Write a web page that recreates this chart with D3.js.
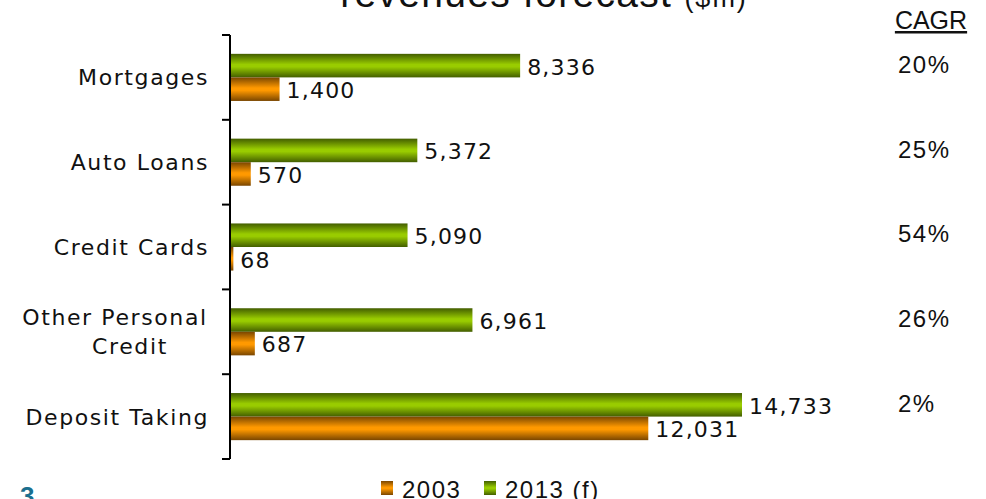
<!DOCTYPE html>
<html><head><meta charset="utf-8">
<script src="https://cdn.jsdelivr.net/npm/d3@7"></script>
<style>body{margin:0;background:#fff;}svg{display:block;}</style>
</head><body>
<svg id="chart" width="986" height="499"></svg>
<script>
const categories = ["Mortgages", "Auto Loans", "Credit Cards", "Other Personal Credit", "Deposit Taking"];
const categoryLines = [["Mortgages"], ["Auto Loans"], ["Credit Cards"], ["Other Personal", "Credit"], ["Deposit Taking"]];
const series = ["2013 (f)", "2003"];
const values2013 = [8336, 5372, 5090, 6961, 14733];
const values2003 = [1400, 570, 68, 687, 12031];
const cagr = ["20%", "25%", "54%", "26%", "2%"];
const legendOrder = ["2003", "2013 (f)"];

const svg = d3.select("#chart");
const defs = svg.append("defs");
function grad(id, dark, mid) {
  const g = defs.append("linearGradient").attr("id", id).attr("x1", 0).attr("x2", 0).attr("y1", 0).attr("y2", 1);
  g.append("stop").attr("offset", "0%").attr("stop-color", dark);
  g.append("stop").attr("offset", "45%").attr("stop-color", mid);
  g.append("stop").attr("offset", "55%").attr("stop-color", mid);
  g.append("stop").attr("offset", "100%").attr("stop-color", dark);
}
grad("gGreen", "#435e00", "#99cc00");
grad("gOrange", "#7a4600", "#ff9900");
const fills = {"2013 (f)": "url(#gGreen)", "2003": "url(#gOrange)"};

const x = d3.scaleLinear().domain([0, 14733]).range([231, 742]);
const y = d3.scaleBand().domain(categories).range([35, 459]).paddingInner(0).paddingOuter(0);
const sub = d3.scaleBand().domain(series).range([0, y.bandwidth()]).paddingInner(0).paddingOuter(0.8);

const data = categories.map((c, i) => ({c, i, vals: [
  {s: "2013 (f)", v: values2013[i]}, {s: "2003", v: values2003[i]}]}));

// title
const title = svg.append("text").attr("x", 544).attr("y", 7).attr("text-anchor", "middle")
  .attr("font-family", "Liberation Sans, Arial, sans-serif").attr("fill", "#111");
title.append("tspan").attr("font-size", 39).attr("letter-spacing", 1.3).text("revenues forecast ");
title.append("tspan").attr("font-size", 27).attr("letter-spacing", 2).text("($m)");

// CAGR header
svg.append("text").attr("x", 931).attr("y", 29).attr("text-anchor", "middle")
  .attr("font-family", "Liberation Sans, Arial, sans-serif").attr("font-size", 25)
  .attr("text-decoration", "underline").attr("fill", "#111").text("CAGR");

const groups = svg.selectAll("g.cat").data(data).join("g").attr("class", "cat")
  .attr("transform", d => `translate(0,${y(d.c)})`);

groups.selectAll("rect").data(d => d.vals).join("rect")
  .attr("x", x(0)).attr("y", d => sub(d.s)).attr("width", d => x(d.v) - x(0))
  .attr("height", sub.bandwidth()).attr("fill", d => fills[d.s]);

groups.selectAll("text.val").data(d => d.vals).join("text").attr("class", "val")
  .attr("x", d => x(d.v) + 7).attr("y", d => sub(d.s) + sub.bandwidth() / 2 + 1)
  .attr("dy", "0.36em").attr("font-family", "DejaVu Sans, Verdana, sans-serif")
  .attr("font-size", 22).attr("letter-spacing", 1.2).attr("fill", "#111")
  .text(d => d3.format(",")(d.v));

// category labels
groups.each(function(d, i) {
  const g = d3.select(this);
  const lines = categoryLines[i];
  const cy = y.bandwidth() / 2;
  const lh = 29;
  lines.forEach((t, k) => {
    g.append("text").attr("x", lines.length > 1 ? (k === 0 ? 115 : 130) : 209)
      .attr("y", cy + (k - (lines.length - 1) / 2) * lh)
      .attr("dy", "0.36em").attr("text-anchor", lines.length > 1 ? "middle" : "end")
      .attr("font-family", "DejaVu Sans, Verdana, sans-serif").attr("font-size", 22)
      .attr("letter-spacing", 1.6).attr("fill", "#111").text(t);
  });
  g.append("text").attr("x", 898).attr("y", cy - 4.5)
    .attr("font-family", "Liberation Sans, Arial, sans-serif").attr("font-size", 24)
    .attr("letter-spacing", 1.5).attr("fill", "#111").text(cagr[i]);
});

// axis
const axis = d3.axisLeft(y).tickSize(0).tickFormat("");
const ax = svg.append("g").attr("transform", `translate(230,0)`).call(axis);
ax.select(".domain").attr("stroke", "#000").attr("stroke-width", 2).attr("d", "M0,35V459");
const bounds = categories.map(c => y(c)).concat([y.range()[1]]);
ax.selectAll("line.tk").data(bounds).join("line").attr("class", "tk")
  .attr("x1", -8).attr("x2", 0).attr("y1", d => d).attr("y2", d => d)
  .attr("stroke", "#000").attr("stroke-width", 2);

// legend
const leg = svg.append("g").attr("font-family", "Liberation Sans, Arial, sans-serif").attr("font-size", 24);
const legX = [381, 484];
legendOrder.forEach((s, k) => {
  leg.append("rect").attr("x", legX[k]).attr("y", 481).attr("width", 12).attr("height", 14)
    .attr("fill", fills[s]);
  leg.append("text").attr("x", legX[k] + 21).attr("y", 498).attr("letter-spacing", 1.5)
    .attr("fill", "#111").text(s);
});

// page number
svg.append("text").attr("x", 20).attr("y", 505).attr("font-family", "Liberation Sans, Arial, sans-serif")
  .attr("font-size", 26).attr("font-weight", "bold").attr("fill", "#1b6f8e").text("3");
</script>
</body></html>
